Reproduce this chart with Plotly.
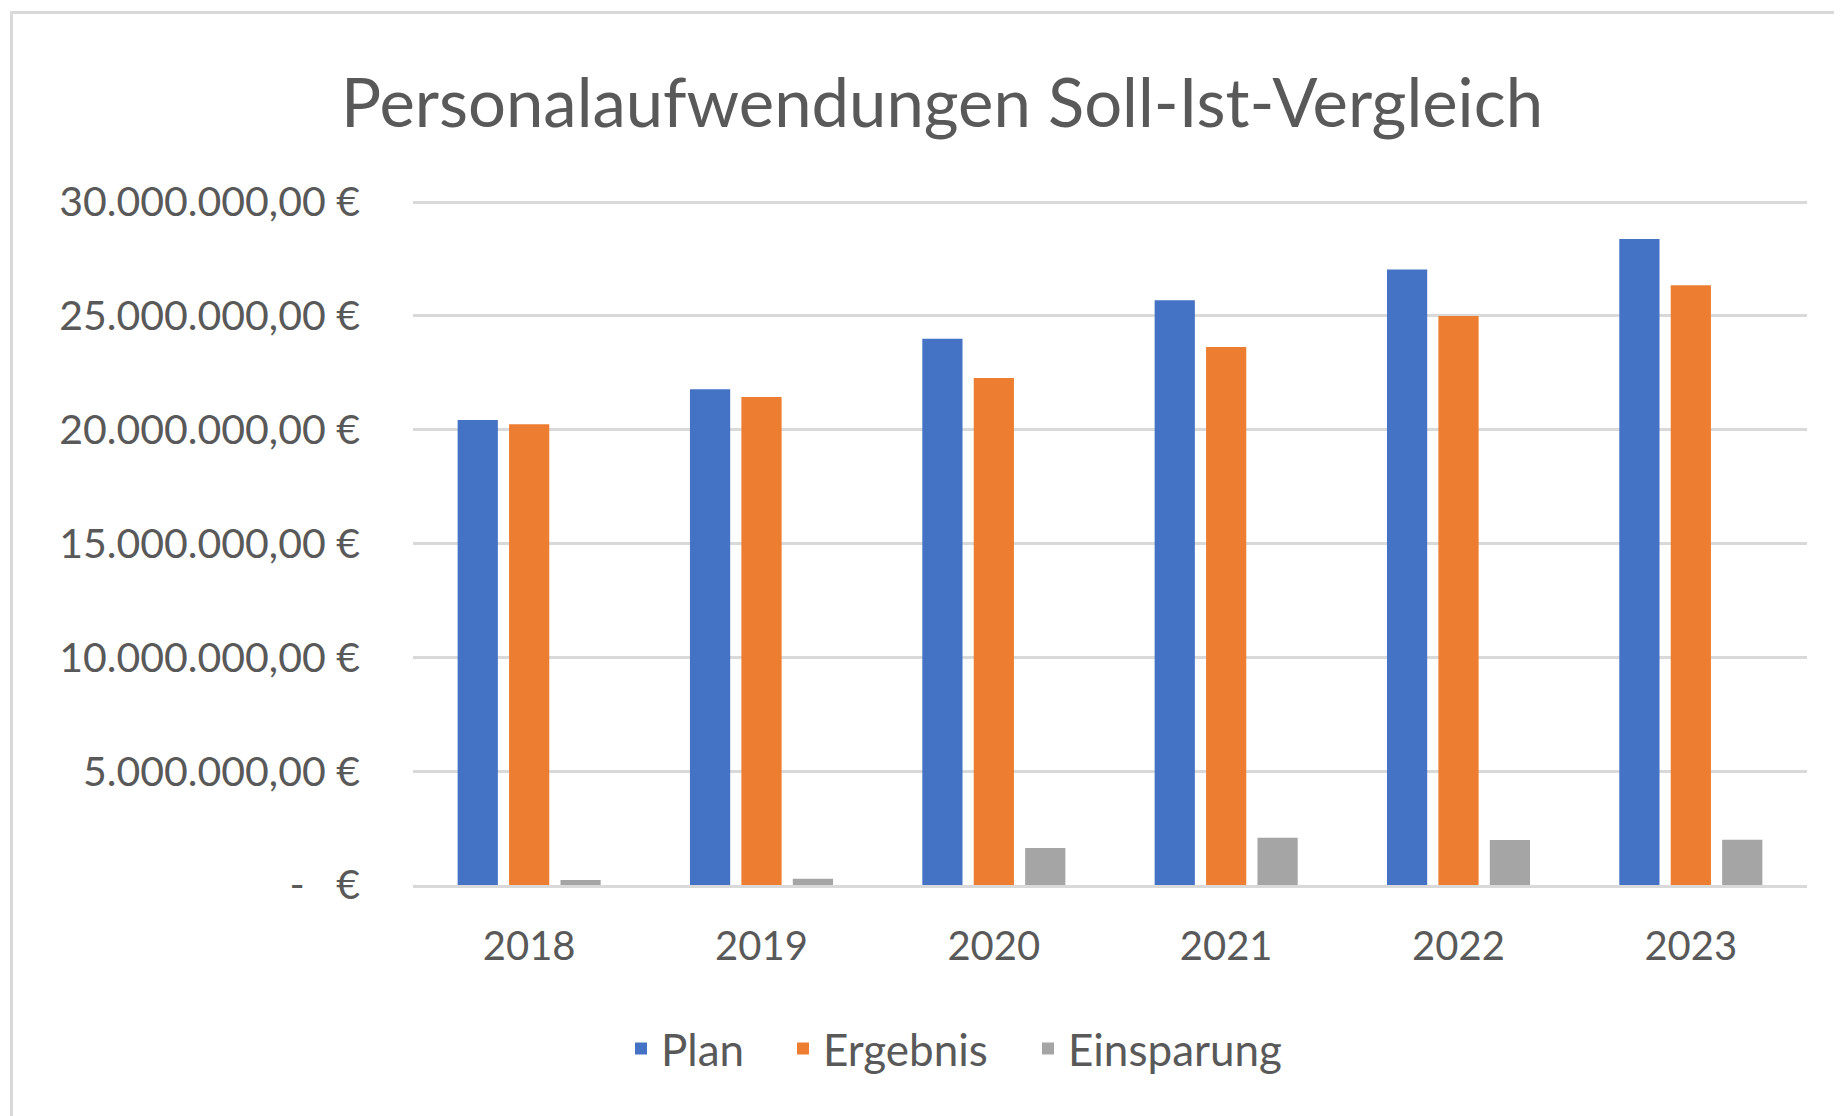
import plotly.graph_objects as go

years = ["2018", "2019", "2020", "2021", "2022", "2023"]
plan = [20.42e6, 21.77e6, 23.99e6, 25.68e6, 27.03e6, 28.37e6]
ergebnis = [20.24e6, 21.43e6, 22.27e6, 23.63e6, 24.99e6, 26.34e6]
einsparung = [0.22e6, 0.27e6, 1.62e6, 2.07e6, 1.98e6, 1.99e6]

ytick_vals = [0, 5e6, 10e6, 15e6, 20e6, 25e6, 30e6]
ytick_text = ["-\u00a0\u00a0\u00a0€", "5.000.000,00 €", "10.000.000,00 €", "15.000.000,00 €",
              "20.000.000,00 €", "25.000.000,00 €", "30.000.000,00 €"]

FONT = "Lato"
TXT = "#595959"
GRID = "#D9D9D9"

# page body has an 8px margin; work in screen coordinates and convert
OFF = 8
W, H = 1842 - OFF, 1116 - OFF
plot_left, plot_right, plot_top, plot_bottom = 413, 1807, 200, 885  # screen px
L, T = plot_left - OFF, plot_top - OFF
R, B = W - (plot_right - OFF), H - (plot_bottom - OFF)
pw, ph = plot_right - plot_left, plot_bottom - plot_top
y_top = 30e6 * (plot_bottom - plot_top) / (plot_bottom - 202)


def px(x):
    return (x - plot_left) / pw


def py(y):
    return (plot_bottom - y) / ph


fig = go.Figure()
fig.add_trace(go.Bar(name="Plan", x=years, y=plan, marker=dict(color="#4472C4", line=dict(width=0)),
                     legend="legend", showlegend=True))
fig.add_trace(go.Bar(name="Ergebnis", x=years, y=ergebnis, marker=dict(color="#ED7D31", line=dict(width=0)),
                     legend="legend2", showlegend=True))
fig.add_trace(go.Bar(name="Einsparung", x=years, y=einsparung, marker=dict(color="#A5A5A5", line=dict(width=0)),
                     legend="legend3", showlegend=True))

leg_common = dict(orientation="h", xanchor="left", yanchor="middle", y=py(1049), visible=True,
                  font=dict(family=FONT, size=44, color=TXT), bgcolor="rgba(0,0,0,0)")

fig.update_layout(
    width=W, height=H,
    margin=dict(l=L, r=R, t=T, b=B, pad=0),
    showlegend=True,
    paper_bgcolor="white", plot_bgcolor="white",
    barmode="group", bargap=0.336, bargroupgap=0.218,
    title=dict(text="Personalaufwendungen Soll-Ist-Vergleich", x=(942 - OFF) / W, xanchor="center",
               xref="container", yref="container", y=1 - (103.5 - OFF) / H, yanchor="middle",
               font=dict(family=FONT, size=67, color=TXT)),
    legend=dict(x=px(621), **leg_common),
    legend2=dict(x=px(783), **leg_common),
    legend3=dict(x=px(1028), **leg_common),
    xaxis=dict(showgrid=False, showline=True, linecolor=GRID, linewidth=2.6, ticks="",
               tickfont=dict(family=FONT, size=40, color=TXT), ticklabelstandoff=24),
    yaxis=dict(range=[0, y_top], tickvals=ytick_vals, ticktext=ytick_text, showgrid=True,
               gridcolor=GRID, gridwidth=2.6, zeroline=False, showline=False, ticks="",
               tickfont=dict(family=FONT, size=41, color=TXT), ticklabelstandoff=52),
    shapes=[dict(type="rect", xref="paper", yref="paper", x0=px(11.5), x1=px(1900),
                 y0=py(1140), y1=py(12.5), line=dict(color="#D9D9D9", width=3),
                 fillcolor="rgba(0,0,0,0)", layer="below")],
)

fig.write_html("out.html")
